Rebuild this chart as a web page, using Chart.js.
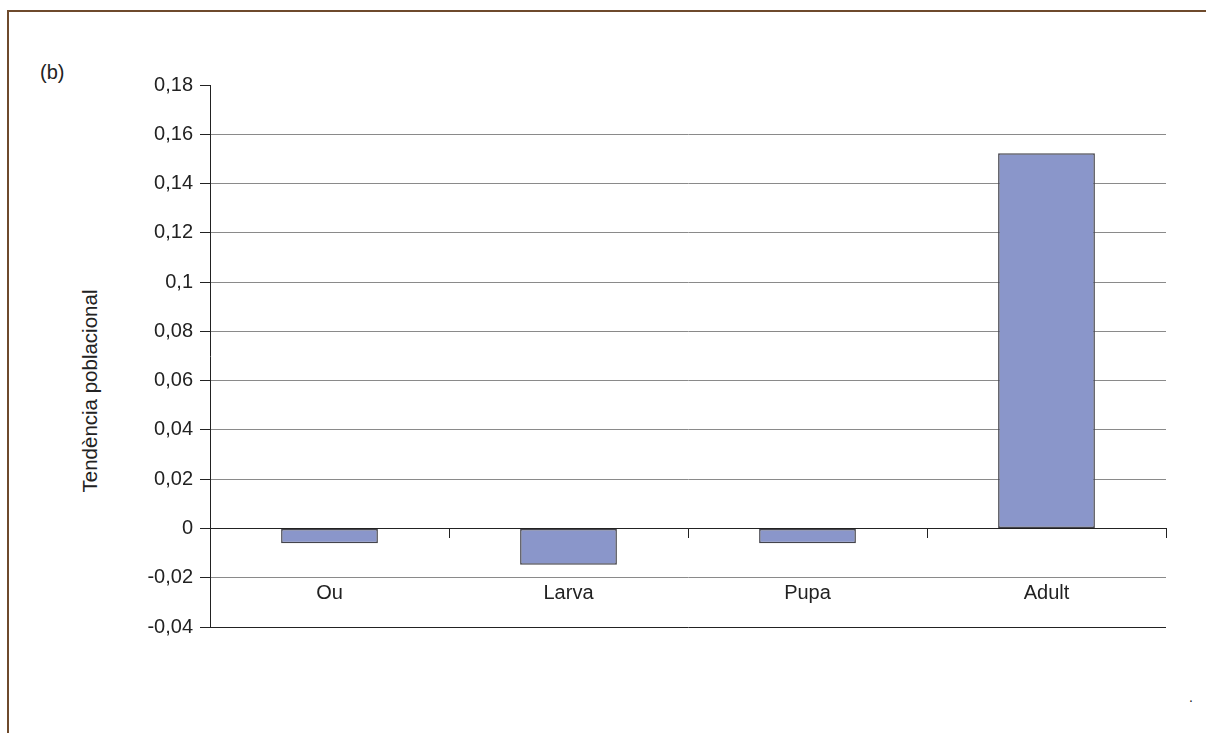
<!DOCTYPE html>
<html lang="ca">
<head>
<meta charset="utf-8">
<title>Tendència poblacional per estadi</title>
<script src="https://cdn.jsdelivr.net/npm/chart.js@4/dist/chart.umd.min.js"></script>
<style>
  html, body { margin: 0; padding: 0; background: #ffffff; }
  body { width: 1206px; height: 733px; position: relative; overflow: hidden;
         font-family: "Liberation Sans", Arial, Helvetica, sans-serif; color: #222; }
  .frame { position: absolute; left: 7px; top: 10px; right: -4px; bottom: -4px;
           border-top: 2px solid #6e4a2c; border-left: 2px solid #6e4a2c; }
  .panel { position: absolute; left: 40px; top: 61px; font-size: 20px; color: #222; }
  .ytitle { position: absolute; left: 90px; top: 391px; font-size: 20.5px; color: #222;
            white-space: nowrap; transform: translate(-50%, -50%) rotate(-90deg); }
  .dot { position: absolute; left: 1189px; top: 689px; font-size: 14px; color: #222; }
  .wrap { position: absolute; left: 0; top: 0; width: 1206px; height: 733px; }
</style>
</head>
<body>
<div class="frame"></div>
<div class="panel">(b)</div>
<div class="ytitle">Tendència poblacional</div>
<div class="dot">.</div>
<div class="wrap"><canvas id="chart"></canvas></div>
<script>
// Development stages and their population trend values
const stages = ['Ou', 'Larva', 'Pupa', 'Adult'];
const trendValues = [-0.006, -0.0147, -0.006, 0.1523];

// Value axis: range, step and the labels printed beside each step
const yMin = -0.04;
const yMax = 0.18;
const yStep = 0.02;
const yTickLabels = ['-0,04', '-0,02', '0', '0,02', '0,04', '0,06', '0,08', '0,1', '0,12', '0,14', '0,16', '0,18'];

const textColor = '#222222';
const lineDark = '#222222';
const lineGrey = '#8a8a8a';
const labelFont = { family: '"Liberation Sans", Arial, Helvetica, sans-serif', size: 20 };

new Chart(document.getElementById('chart'), {
  type: 'bar',
  data: {
    labels: stages,
    datasets: [{
      data: trendValues,
      backgroundColor: '#8a96ca',
      borderColor: '#44444c',
      borderWidth: 1.5,
      borderSkipped: false,
      categoryPercentage: 1,
      barPercentage: 0.405
    }]
  },
  options: {
    responsive: true,
    maintainAspectRatio: false,
    animation: false,
    layout: { padding: { left: 140, top: 85, right: 40, bottom: 106 } },
    plugins: { legend: { display: false }, tooltip: { enabled: false } },
    scales: {
      x: {
        position: { y: 0 },
        offset: true,
        afterFit(scale) { scale.height = 0; },
        grid: { offset: true, drawOnChartArea: false, drawTicks: true, tickLength: 9, tickColor: lineDark, lineWidth: 1 },
        border: { display: true, color: lineDark, width: 1 },
        ticks: { color: textColor, font: labelFont, padding: 44, maxRotation: 0 }
      },
      y: {
        min: yMin,
        max: yMax,
        afterFit(scale) { scale.width = 70; },
        ticks: {
          stepSize: yStep,
          color: textColor,
          font: labelFont,
          padding: 7,
          callback: (value, index) => yTickLabels[index]
        },
        grid: {
          drawTicks: true,
          tickLength: 10,
          tickColor: lineDark,
          lineWidth: 1,
          color: (ctx) => {
            const v = ctx.tick ? Math.round(ctx.tick.value * 1000) / 1000 : null;
            if (v === yMax) return 'rgba(0,0,0,0)';
            if (v === 0 || v === yMin) return lineDark;
            return lineGrey;
          }
        },
        border: { display: true, color: lineDark, width: 1 }
      }
    }
  }
});
</script>
</body>
</html>
